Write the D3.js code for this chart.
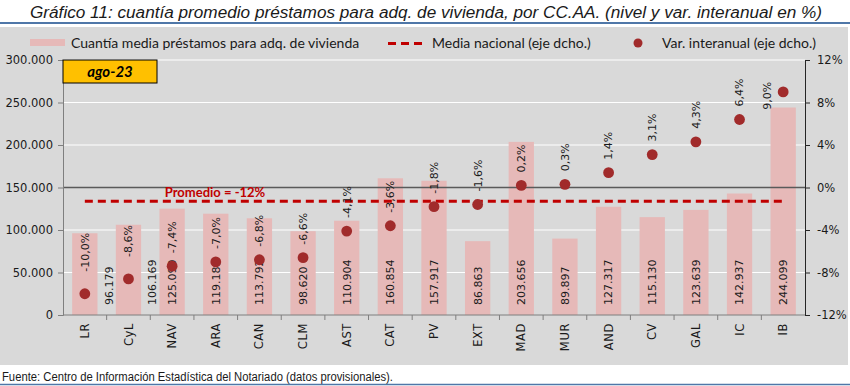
<!DOCTYPE html>
<html>
<head>
<meta charset="utf-8">
<script src="https://cdn.jsdelivr.net/npm/d3@7"></script>
<style>
  body { margin: 0; background: #fff; }
  svg { display: block; }
</style>
</head>
<body>
<div id="chart"></div>
<script>
const regions = ['LR', 'CyL', 'NAV', 'ARA', 'CAN', 'CLM', 'AST', 'CAT', 'PV', 'EXT', 'MAD', 'MUR', 'AND', 'CV', 'GAL', 'IC', 'IB'];
const amounts = [96179, 106169, 125090, 119189, 113792, 98620, 110904, 160854, 157917, 86863, 203656, 89897, 127317, 115130, 123639, 142937, 244099];
const yoy = [-10.0, -8.6, -7.4, -7.0, -6.8, -6.6, -4.1, -3.6, -1.8, -1.6, 0.2, 0.3, 1.4, 3.1, 4.3, 6.4, 9.0];
const nationalAvg = -1.3;
const leftTicks = [0, 50000, 100000, 150000, 200000, 250000, 300000];
const rightTicks = [-12, -8, -4, 0, 4, 8, 12];

const title = 'Gráfico 11: cuantía promedio préstamos para adq. de vivienda, por CC.AA. (nivel y var. interanual en %)';
const source = 'Fuente: Centro de Información Estadística del Notariado (datos provisionales).';
const legendLabels = ['Cuantía media préstamos para adq. de vivienda', 'Media nacional (eje dcho.)', 'Var. interanual (eje dcho.)'];
const periodLabel = 'ago-23';
const avgLabel = 'Promedio = -12%';

const es = d3.formatLocale({ decimal: ',', thousands: '.', grouping: [3], currency: ['', '€'], minus: '-' });
const fmtAmount = es.format(',d');
const fmtPct = d => es.format('.1f')(d) + '%';

const width = 850, height = 386;
const plot = { left: 63, right: 805, top: 60, bottom: 315 };

const colors = {
  bg: '#d9d9d9',
  bar: '#e6b9b8',
  dot: '#a12b2b',
  avg: '#c00000',
  rule: '#4f77a8',
  text: '#1a1a1a'
};
const tickFont = "'DejaVu Sans', Verdana, sans-serif";

const svg = d3.select('#chart').append('svg')
  .attr('width', width)
  .attr('height', height)
  .attr('viewBox', [0, 0, width, height]);

// title + rules
svg.append('text')
  .attr('x', 30).attr('y', 18)
  .attr('textLength', 792).attr('lengthAdjust', 'spacingAndGlyphs')
  .attr('font-family', "'Liberation Sans', Arial, sans-serif")
  .attr('font-style', 'italic')
  .attr('font-size', 16)
  .attr('fill', colors.text)
  .text(title);

svg.append('line')
  .attr('x1', 0).attr('x2', width).attr('y1', 23).attr('y2', 23)
  .attr('stroke', colors.rule).attr('stroke-width', 2);

svg.append('rect')
  .attr('x', 0).attr('y', 27).attr('width', 848).attr('height', 338)
  .attr('fill', colors.bg);

// scales
const x = d3.scaleBand().domain(regions).range([plot.left, plot.right]).padding(0);
const barW = x.bandwidth() * 0.58;
const cx = d => x(d) + x.bandwidth() / 2;
const yL = d3.scaleLinear().domain([0, 300000]).range([plot.bottom, plot.top]);
const yR = d3.scaleLinear().domain([-12, 12]).range([plot.bottom, plot.top]);

// gridlines
svg.append('g')
  .selectAll('line')
  .data(leftTicks.filter(d => d > 0 && d !== 150000))
  .join('line')
    .attr('x1', plot.left).attr('x2', plot.right)
    .attr('y1', d => yL(d)).attr('y2', d => yL(d))
    .attr('stroke', '#fff').attr('stroke-width', 1.2);

// bars
svg.append('g')
  .selectAll('rect')
  .data(regions)
  .join('rect')
    .attr('x', d => cx(d) - barW / 2)
    .attr('width', barW)
    .attr('y', (d, i) => yL(amounts[i]))
    .attr('height', (d, i) => yL(0) - yL(amounts[i]))
    .attr('fill', colors.bar);

// zero line for right axis
svg.append('line')
  .attr('x1', plot.left).attr('x2', plot.right)
  .attr('y1', yR(0)).attr('y2', yR(0))
  .attr('stroke', '#5a5a5a').attr('stroke-width', 1.5);

// left axis
const gl = svg.append('g')
  .attr('transform', `translate(${plot.left},0)`)
  .call(d3.axisLeft(yL).tickValues(leftTicks).tickFormat(fmtAmount).tickSize(5).tickPadding(5))
  .attr('font-family', tickFont).attr('font-size', 11.5);
gl.selectAll('path, line').attr('stroke', '#7f7f7f');
gl.selectAll('text').attr('fill', colors.text);

// right axis
const gr = svg.append('g')
  .attr('transform', `translate(${plot.right},0)`)
  .call(d3.axisRight(yR).tickValues(rightTicks).tickFormat(d => d + '%').tickSize(5).tickPadding(7))
  .attr('font-family', tickFont).attr('font-size', 11.5);
gr.selectAll('path, line').attr('stroke', '#262626');
gr.selectAll('text').attr('fill', colors.text);

// bottom axis: ticks between categories
const gb = svg.append('g').attr('transform', `translate(0,${plot.bottom})`);
gb.append('line')
  .attr('x1', plot.left).attr('x2', plot.right)
  .attr('stroke', '#7f7f7f');
gb.selectAll('.tk')
  .data(regions.slice(1))
  .join('line')
    .attr('class', 'tk')
    .attr('x1', d => x(d)).attr('x2', d => x(d))
    .attr('y1', 0).attr('y2', 5)
    .attr('stroke', '#7f7f7f');
gb.selectAll('text')
  .data(regions)
  .join('text')
    .attr('transform', d => `translate(${cx(d)},8) rotate(-90)`)
    .attr('text-anchor', 'end')
    .attr('dy', '0.35em')
    .attr('font-family', tickFont)
    .attr('font-size', 11.5)
    .attr('letter-spacing', 0.6)
    .attr('fill', colors.text)
    .text(d => d);

// bar value labels
svg.append('g')
  .selectAll('text')
  .data(regions)
  .join('text')
    .attr('transform', (d, i) => `translate(${cx(d) + (i < 2 ? 24 : 0)},${plot.bottom - 10}) rotate(-90)`)
    .attr('dy', '0.35em')
    .attr('font-family', tickFont)
    .attr('font-size', 11)
    .attr('fill', colors.text)
    .text((d, i) => fmtAmount(amounts[i]));

// national average
const first = regions[0], last = regions[regions.length - 1];
svg.append('line')
  .attr('x1', cx(first)).attr('x2', cx(last))
  .attr('y1', yR(nationalAvg)).attr('y2', yR(nationalAvg))
  .attr('stroke', colors.avg).attr('stroke-width', 3)
  .attr('stroke-dasharray', '8,5');

svg.append('text')
  .attr('x', 215).attr('y', yR(nationalAvg) - 4)
  .attr('text-anchor', 'middle')
  .attr('font-family', 'Lato, sans-serif')
  .attr('font-weight', 'bold')
  .attr('font-size', 13)
  .attr('fill', colors.avg)
  .text(avgLabel);

// yoy dots
svg.append('g')
  .selectAll('circle')
  .data(regions)
  .join('circle')
    .attr('cx', d => cx(d))
    .attr('cy', (d, i) => yR(yoy[i]))
    .attr('r', 5.4)
    .attr('fill', colors.dot);

svg.append('g')
  .selectAll('text')
  .data(regions)
  .join('text')
    .attr('transform', (d, i) => {
      const isLast = i === regions.length - 1;
      const px = isLast ? cx(d) - 16 : cx(d);
      const py = isLast ? yR(yoy[i]) + 4 : yR(yoy[i]) - (i < 2 ? 22 : 13);
      return `translate(${px},${py}) rotate(-90)`;
    })
    .attr('text-anchor', (d, i) => i === regions.length - 1 ? 'middle' : 'start')
    .attr('dy', '0.35em')
    .attr('font-family', tickFont)
    .attr('font-size', 11)
    .attr('fill', colors.text)
    .text((d, i) => fmtPct(yoy[i]));

// period badge
svg.append('rect')
  .attr('x', plot.left).attr('y', plot.top)
  .attr('width', 94).attr('height', 23)
  .attr('fill', '#ffc000').attr('stroke', '#000').attr('stroke-width', 1);
svg.append('text')
  .attr('x', plot.left + 47).attr('y', plot.top + 16.5)
  .attr('text-anchor', 'middle')
  .attr('font-family', 'Lato, sans-serif')
  .attr('font-weight', 'bold').attr('font-style', 'italic')
  .attr('font-size', 15)
  .attr('fill', '#000')
  .text(periodLabel);

// legend
const lg = svg.append('g')
  .attr('font-family', 'Lato, sans-serif')
  .attr('font-size', 14)
  .attr('fill', colors.text);
lg.append('rect').attr('x', 30).attr('y', 39).attr('width', 35).attr('height', 7).attr('fill', colors.bar);
lg.append('text').attr('x', 71).attr('y', 48).text(legendLabels[0]);
lg.append('line').attr('x1', 388).attr('x2', 424).attr('y1', 43.5).attr('y2', 43.5)
  .attr('stroke', colors.avg).attr('stroke-width', 3).attr('stroke-dasharray', '8,5');
lg.append('text').attr('x', 432).attr('y', 48).text(legendLabels[1]);
lg.append('circle').attr('cx', 638).attr('cy', 43).attr('r', 4.5).attr('fill', colors.dot);
lg.append('text').attr('x', 662).attr('y', 48).text(legendLabels[2]);

// source + bottom rule
svg.append('text')
  .attr('x', 2).attr('y', 380.5)
  .attr('textLength', 391).attr('lengthAdjust', 'spacingAndGlyphs')
  .attr('font-family', "'Liberation Sans', Arial, sans-serif")
  .attr('font-size', 12)
  .attr('fill', colors.text)
  .text(source);
svg.append('line')
  .attr('x1', 0).attr('x2', width).attr('y1', 384.5).attr('y2', 384.5)
  .attr('stroke', colors.rule).attr('stroke-width', 1.5);
</script>
</body>
</html>
